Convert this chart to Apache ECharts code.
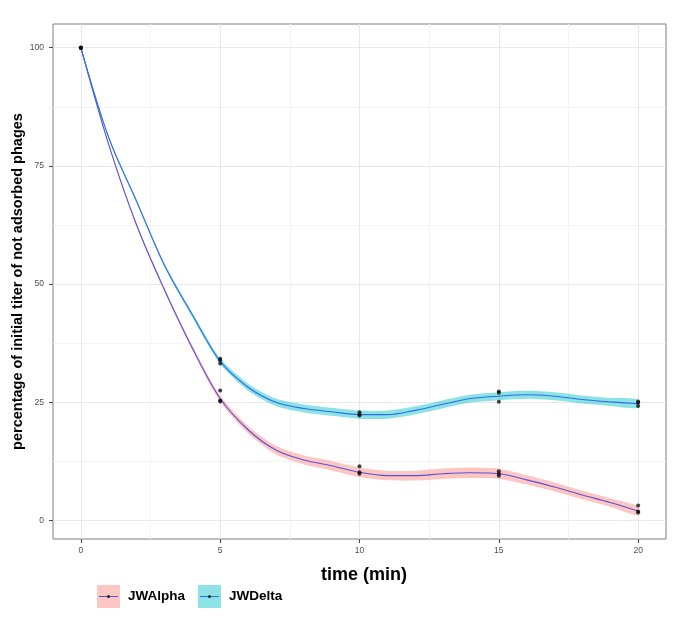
<!DOCTYPE html>
<html>
<head>
<meta charset="utf-8">
<script src="https://cdn.jsdelivr.net/npm/echarts@6/dist/echarts.min.js"></script>
<style>html,body{margin:0;padding:0;background:#fff;}#c{width:685px;height:637px;}</style>
</head>
<body>
<div id="c"></div>
<script>
// ---- data ----
const seriesNames = ['JWAlpha', 'JWDelta'];
const xTicks = [0, 5, 10, 15, 20];
const yTicks = [0, 25, 50, 75, 100];
// smoothed (loess) curve sampled at these times
const fitTime = [0,1,2,3,4,5,6,7,8,9,10,11,12,13,14,15,16,17,18,19,20];
const alphaFit  = [100,79.5,62.5,48.8,36.5,25.8,19.2,14.9,12.8,11.6,10.2,9.5,9.5,9.9,10.1,9.9,8.6,7.1,5.4,3.8,2.0];
const alphaHalf = [0.2,0.3,0.3,0.4,0.5,0.65,0.8,0.9,0.95,1.0,1.0,1.0,1.05,1.1,1.1,1.05,1.0,0.95,0.9,0.9,0.95];
const deltaFit  = [100,81.0,67.5,54.0,43.5,33.7,28.2,25.0,23.7,23.0,22.4,22.4,23.3,24.6,25.8,26.3,26.6,26.3,25.6,25.1,24.7];
const deltaHalf = [0.2,0.3,0.3,0.4,0.5,0.6,0.75,0.8,0.85,0.85,0.85,0.85,0.85,0.85,0.85,0.85,0.85,0.85,0.85,0.85,0.9];
// observations
const obsTime  = [0,0,0,5,5,5,10,10,10,15,15,15,20,20,20];
const alphaObs = [100,100,100,27.5,25.4,25.2,11.5,10.2,9.9,10.4,9.9,9.5,3.2,1.9,1.7];
const deltaObs = [100,100,100,34.2,33.9,33.2,22.9,22.4,22.2,27.3,27.0,25.1,25.2,24.9,24.2];

const FONT = '"Liberation Sans", Arial, sans-serif';
const ribbonColors = ['rgba(248,118,109,0.42)', 'rgba(0,191,196,0.45)'];
const lineColors = ['#5B4FD8', '#2F6CE8'];

function ribbonSeries(name, fit, half, color) {
  const rows = fitTime.map((t, i) => [t, fit[i] - half[i], fit[i] + half[i]]);
  return {
    type: 'custom', name: name, silent: true, z: 2,
    data: rows,
    encode: { x: 0, y: [1, 2] },
    renderItem: function (params, api) {
      if (params.dataIndex !== 0) return null;
      const upper = rows.map(r => api.coord([r[0], r[2]]));
      const lower = rows.slice().reverse().map(r => api.coord([r[0], r[1]]));
      return {
        type: 'polygon',
        shape: { points: upper.concat(lower), smooth: 0.25 },
        style: { fill: color, stroke: null }
      };
    }
  };
}
function fitSeries(name, fit, color) {
  return {
    type: 'line', name: name + ' fit', z: 3, silent: true,
    data: fitTime.map((t, i) => [t, fit[i]]),
    smooth: 0.35, symbol: 'none',
    lineStyle: { color: color, width: 1.1 }
  };
}
function obsSeries(name, obs) {
  return {
    type: 'scatter', name: name + ' obs', z: 4, silent: true,
    data: obsTime.map((t, i) => [t, obs[i]]),
    symbolSize: 4, itemStyle: { color: '#111' }
  };
}

const chart = echarts.init(document.getElementById('c'), null, { renderer: 'canvas' });
const legendText = { fontSize: 13.5, fontWeight: 'bold', color: '#000', fontFamily: FONT, padding: [0, 0, 0, 3] };
const option = {
  animation: false,
  backgroundColor: '#fff',
  grid: { left: 53, right: 19, top: 24, bottom: 98, outerBoundsMode: 'none', containLabel: false,
          show: true, borderColor: '#7f7f7f', borderWidth: 1, backgroundColor: '#fff' },
  xAxis: {
    type: 'value', min: -1, max: 21, minInterval: 5, maxInterval: 5,
    axisLine: { show: false, onZero: false },
    axisTick: { show: true, length: 4, customValues: xTicks, lineStyle: { color: '#444' } },
    axisLabel: { customValues: xTicks, fontSize: 8.5, color: '#4d4d4d', margin: 7, fontFamily: FONT },
    splitLine: { show: true, lineStyle: { color: '#e8e8e8', width: 1 } },
    minorTick: { show: false, splitNumber: 2 },
    minorSplitLine: { show: true, lineStyle: { color: '#f4f4f4', width: 1 } },
    name: 'time (min)', nameLocation: 'middle', nameGap: 27,
    nameTextStyle: { fontSize: 18, fontWeight: 'bold', color: '#000', fontFamily: FONT, padding: [0, 0, 0, 9] }
  },
  yAxis: {
    type: 'value', min: -3.9, max: 105, minInterval: 25, maxInterval: 25,
    axisLine: { show: false, onZero: false },
    axisTick: { show: true, length: 4, customValues: yTicks, lineStyle: { color: '#444' } },
    axisLabel: { customValues: yTicks, fontSize: 8.5, color: '#4d4d4d', margin: 9, fontFamily: FONT },
    splitLine: { show: true, lineStyle: { color: '#e8e8e8', width: 1 } },
    minorTick: { show: false, splitNumber: 2 },
    minorSplitLine: { show: true, lineStyle: { color: '#f4f4f4', width: 1 } },
    name: 'percentage of initial titer of not adsorbed phages', nameLocation: 'middle', nameRotate: 90,
    nameGap: 28, nameMoveOverlap: false,
    nameTextStyle: { fontSize: 14.5, fontWeight: 'bold', color: '#000', fontFamily: FONT }
  },
  legend: [
    { left: 97, top: 585, padding: 0, itemWidth: 23, itemHeight: 23, icon: 'rect',
      data: [{ name: seriesNames[0], itemStyle: { color: ribbonColors[0] } }], textStyle: legendText },
    { left: 198, top: 585, padding: 0, itemWidth: 23, itemHeight: 23, icon: 'rect',
      data: [{ name: seriesNames[1], itemStyle: { color: ribbonColors[1] } }], textStyle: legendText }
  ],
  graphic: [
    { type: 'line', z: 100, shape: { x1: 99, y1: 596.5, x2: 118, y2: 596.5 }, style: { stroke: lineColors[0], lineWidth: 1 } },
    { type: 'circle', z: 101, shape: { cx: 108.5, cy: 596.5, r: 1.5 }, style: { fill: '#222' } },
    { type: 'line', z: 100, shape: { x1: 200, y1: 596.5, x2: 219, y2: 596.5 }, style: { stroke: lineColors[1], lineWidth: 1 } },
    { type: 'circle', z: 101, shape: { cx: 209.5, cy: 596.5, r: 1.5 }, style: { fill: '#222' } }
  ],
  series: [
    ribbonSeries(seriesNames[0], alphaFit, alphaHalf, ribbonColors[0]),
    ribbonSeries(seriesNames[1], deltaFit, deltaHalf, ribbonColors[1]),
    fitSeries(seriesNames[0], alphaFit, lineColors[0]),
    fitSeries(seriesNames[1], deltaFit, lineColors[1]),
    obsSeries(seriesNames[0], alphaObs),
    obsSeries(seriesNames[1], deltaObs)
  ]
};
chart.setOption(option);
</script>
</body>
</html>
